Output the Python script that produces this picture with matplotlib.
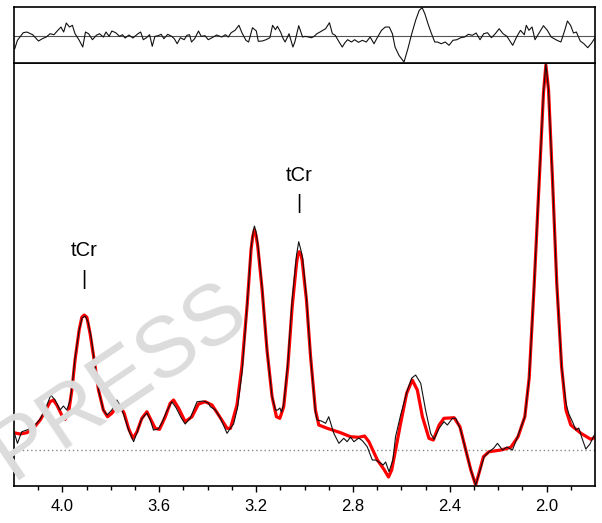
import numpy as np
import matplotlib
matplotlib.use('Agg')
import matplotlib.pyplot as plt

plt.rcParams['font.family'] = ['Liberation Sans', 'DejaVu Sans']

# ---- fitted spectrum (red) ----
fit_ppm = [4.200, 4.175, 4.147, 4.120, 4.092, 4.072, 4.051, 4.037, 4.021, 4.003,
           3.989, 3.975, 3.961, 3.948, 3.931, 3.920, 3.910, 3.899, 3.886, 3.869,
           3.851, 3.831, 3.814, 3.796, 3.775, 3.761, 3.745, 3.727, 3.709, 3.692,
           3.672, 3.651, 3.634, 3.617, 3.599, 3.575, 3.555, 3.541, 3.520, 3.493,
           3.465, 3.438, 3.410, 3.382, 3.355, 3.320, 3.306, 3.279, 3.258, 3.237,
           3.221, 3.214, 3.207, 3.200, 3.193, 3.175, 3.155, 3.134, 3.116, 3.102,
           3.086, 3.069, 3.051, 3.033, 3.028, 3.022, 3.016, 3.010, 2.992, 2.975,
           2.955, 2.941, 2.906, 2.851, 2.810, 2.776, 2.752, 2.734, 2.699, 2.672,
           2.653, 2.640, 2.624, 2.603, 2.578, 2.555, 2.534, 2.513, 2.486, 2.468,
           2.444, 2.424, 2.382, 2.358, 2.334, 2.313, 2.293, 2.278, 2.261, 2.238,
           2.189, 2.148, 2.118, 2.090, 2.072, 2.051, 2.031, 2.013, 2.003, 1.992,
           1.975, 1.958, 1.938, 1.920, 1.900, 1.858, 1.817, 1.796]
fit_amp = [16.8, 15.5, 16.8, 21.2, 29.5, 37.8, 47.8, 49.5, 43.5, 34.5,
           30.2, 36.2, 59.5, 89.5, 119.5, 132.2, 134.5, 132.2, 116.2, 89.5,
           59.5, 39.5, 32.8, 36.2, 42.8, 43.5, 36.2, 21.2, 11.2, 17.8,
           31.2, 37.8, 29.5, 21.2, 20.2, 32.8, 46.2, 49.5, 41.2, 27.8,
           32.8, 45.5, 47.8, 44.5, 34.5, 21.2, 21.2, 44.5, 84.5, 144.5,
           199.5, 213.0, 219.5, 214.0, 202.8, 159.5, 99.5, 52.8, 32.8, 31.2,
           42.8, 82.8, 142.8, 186.2, 194.0, 197.8, 196.0, 189.5, 149.5, 92.8,
           39.5, 24.5, 21.2, 16.8, 12.8, 12.2, 13.5, 7.8, -10.5, -19.8,
           -27.5, -20.5, -0.5, 26.2, 56.2, 69.5, 59.5, 32.8, 11.2, 9.5,
           24.5, 31.2, 31.8, 22.8, -0.5, -20.5, -35.5, -22.5, -7.2, -2.2,
           -0.5, 2.2, 12.8, 32.8, 71.5, 166.2, 266.2, 356.2, 384.5, 359.5,
           266.2, 166.2, 82.8, 39.5, 24.5, 16.2, 10.2, 12.8]

# ---- measured spectrum (black) ----
data_ppm = [4.200, 4.186, 4.168, 4.147, 4.120, 4.092, 4.072, 4.048, 4.030, 4.010,
            3.996, 3.982, 3.968, 3.960, 3.948, 3.931, 3.919, 3.906, 3.894, 3.881,
            3.869, 3.851, 3.831, 3.816, 3.796, 3.775, 3.761, 3.745, 3.727, 3.706,
            3.691, 3.675, 3.665, 3.651, 3.637, 3.624, 3.604, 3.588, 3.571, 3.548,
            3.530, 3.509, 3.493, 3.472, 3.444, 3.418, 3.397, 3.389, 3.368, 3.348,
            3.320, 3.306, 3.293, 3.277, 3.258, 3.237, 3.221, 3.211, 3.207, 3.201,
            3.193, 3.175, 3.155, 3.134, 3.120, 3.111, 3.102, 3.095, 3.086, 3.069,
            3.051, 3.033, 3.024, 3.015, 3.008, 2.992, 2.975, 2.955, 2.948, 2.930,
            2.913, 2.900, 2.879, 2.858, 2.838, 2.824, 2.810, 2.796, 2.776, 2.761,
            2.741, 2.720, 2.706, 2.686, 2.675, 2.665, 2.651, 2.635, 2.624, 2.603,
            2.575, 2.557, 2.541, 2.520, 2.500, 2.479, 2.465, 2.444, 2.424, 2.410,
            2.389, 2.375, 2.355, 2.334, 2.313, 2.293, 2.278, 2.258, 2.239, 2.218,
            2.203, 2.182, 2.164, 2.141, 2.120, 2.090, 2.072, 2.051, 2.031, 2.013,
            2.003, 1.992, 1.975, 1.958, 1.938, 1.920, 1.908, 1.893, 1.879, 1.867,
            1.854, 1.838, 1.821, 1.805, 1.796]
data_amp = [17.8, 6.2, 17.8, 19.5, 22.5, 30.5, 39.5, 54.5, 49.5, 39.5,
            43.5, 39.5, 49.5, 64.5, 91.5, 119.5, 131.5, 133.5, 127.5, 111.5,
            89.5, 59.5, 39.5, 34.5, 39.5, 49.5, 43.5, 33.5, 19.5, 7.8,
            17.5, 29.5, 32.8, 36.5, 29.5, 19.5, 20.5, 27.5, 37.5, 47.8,
            41.5, 31.5, 25.5, 31.5, 47.8, 48.5, 46.5, 42.8, 39.5, 31.5,
            16.2, 21.5, 25.5, 41.5, 77.5, 144.5, 201.5, 219.5, 223.5, 218.5,
            205.5, 161.5, 99.5, 52.8, 39.5, 39.5, 41.5, 37.5, 45.5, 86.5,
            149.5, 194.5, 207.8, 199.5, 191.5, 151.5, 92.8, 37.5, 29.5, 28.5,
            26.2, 32.8, 16.2, 6.2, 11.2, 7.8, 12.5, 7.8, 11.5, 8.8,
            2.8, -10.5, -10.5, -13.5, -15.5, -12.5, -22.2, -10.5, 12.8, 34.5,
            59.5, 71.5, 74.5, 66.2, 39.5, 16.2, 10.2, 21.2, 27.8, 24.5,
            31.2, 31.2, 19.5, -0.5, -20.5, -35.5, -23.5, -7.2, -2.5, 1.5,
            6.2, -0.5, 2.5, -0.5, 12.8, 32.8, 71.5, 166.2, 266.2, 356.5,
            385.5, 359.5, 266.2, 166.2, 82.8, 46.2, 35.5, 27.8, 19.5, 21.5,
            11.5, 0.5, 5.5, 13.5, 17.5]

# ---- residual (top panel) ----
res_ppm = [4.197, 4.186, 4.162, 4.147, 4.123, 4.099, 4.083, 4.067, 4.051, 4.035,
           4.019, 4.006, 3.995, 3.984, 3.971, 3.959, 3.948, 3.932, 3.916, 3.905,
           3.892, 3.876, 3.860, 3.847, 3.831, 3.820, 3.807, 3.796, 3.780, 3.764,
           3.752, 3.741, 3.725, 3.709, 3.688, 3.677, 3.666, 3.653, 3.640, 3.629,
           3.618, 3.605, 3.592, 3.581, 3.565, 3.549, 3.538, 3.526, 3.513, 3.497,
           3.486, 3.475, 3.467, 3.454, 3.438, 3.427, 3.411, 3.398, 3.382, 3.363,
           3.342, 3.327, 3.315, 3.303, 3.287, 3.271, 3.258, 3.242, 3.231, 3.215,
           3.199, 3.191, 3.175, 3.159, 3.143, 3.132, 3.120, 3.112, 3.099, 3.088,
           3.080, 3.064, 3.048, 3.040, 3.024, 3.008, 2.997, 2.984, 2.971, 2.960,
           2.949, 2.936, 2.913, 2.897, 2.885, 2.873, 2.857, 2.844, 2.833, 2.822,
           2.806, 2.793, 2.777, 2.761, 2.745, 2.729, 2.713, 2.698, 2.682, 2.666,
           2.650, 2.637, 2.626, 2.610, 2.589, 2.573, 2.557, 2.541, 2.526, 2.514,
           2.503, 2.490, 2.478, 2.462, 2.451, 2.435, 2.419, 2.403, 2.387, 2.371,
           2.355, 2.339, 2.323, 2.307, 2.291, 2.275, 2.260, 2.244, 2.228, 2.212,
           2.196, 2.180, 2.164, 2.140, 2.124, 2.108, 2.092, 2.084, 2.073, 2.060,
           2.048, 2.037, 2.013, 1.997, 1.981, 1.957, 1.941, 1.925, 1.914, 1.901,
           1.889, 1.877, 1.861, 1.846, 1.830, 1.814, 1.798]
res_amp = [-12.7, -4.3, 3.3, 4.0, 1.3, -5.0, -2.7, -1.0, 2.3, 1.3,
           5.7, 9.0, 4.0, 13.0, 9.0, 10.7, 2.3, -3.7, -11.0, 4.0,
           2.3, -3.7, 0.7, 2.3, -1.0, 4.0, -0.3, 5.0, 3.3, -0.3,
           1.3, -2.0, 1.0, -2.0, 2.3, 4.0, -3.7, -1.7, 1.3, -10.3,
           -0.3, 0.3, 1.7, -2.7, 1.7, -0.3, -2.7, -7.7, -1.7, -3.7,
           0.7, 1.3, -6.0, -2.7, 5.0, -0.3, 0.3, -3.7, -1.7, 1.0,
           -1.0, 1.3, -1.0, 3.3, 5.7, 10.7, 3.0, -4.3, -6.0, 8.3,
           5.0, -5.3, -5.0, -3.7, -1.7, 10.7, 6.3, 9.7, 4.0, -2.7,
           -6.0, 2.3, -11.0, -6.0, 10.3, -1.0, -0.3, -1.0, -1.7, -0.3,
           2.3, 4.0, 7.3, 13.3, 2.3, 0.7, -6.0, -11.0, -6.7, -3.7,
           -6.0, -3.7, -6.3, -4.3, -6.0, -1.0, -7.7, -1.0, 5.7, 9.0,
           9.0, 2.3, -11.0, -19.3, -26.0, -12.7, 2.3, 15.7, 25.7, 28.3,
           22.3, 12.3, 4.0, -6.0, -6.0, -7.7, -6.0, -9.3, -4.3, -3.7,
           -1.7, -1.0, 1.7, 0.7, 3.0, -3.7, 2.3, 3.3, -1.7, 2.3,
           7.3, 2.3, -0.3, -9.3, -1.0, 5.7, 1.3, 10.7, 5.7, 9.0,
           -3.7, 0.7, 10.3, 5.7, -1.0, -4.3, -6.0, 5.7, 15.0, 10.7,
           3.0, 4.0, -5.0, -7.7, -11.7, -7.0, -1.0]

xticks = [4.0, 3.6, 3.2, 2.8, 2.4, 2.0]
xtick_labels = ['4.0', '3.6', '3.2', '2.8', '2.4', '2.0']
minor_ticks = [4.1, 3.9, 3.8, 3.7, 3.5, 3.4, 3.3, 3.1, 3.0, 2.9,
               2.7, 2.6, 2.5, 2.3, 2.2, 2.1, 1.9]
peak_names = ['tCr', 'tCr']
peak_pos = [3.910, 3.023]
peak_text_y = [199.5, 274.5]
peak_bar_y = [170.5, 246.5]

fig = plt.figure(figsize=(6.02, 5.23), dpi=100)
ax = fig.add_axes([0.0233, 0.0707, 0.9651, 0.8088])
axr = fig.add_axes([0.0233, 0.8795, 0.9651, 0.1071])

# watermark
fig.text(0.198, 0.27, 'PRESS', fontsize=61, color='#dcdcdc', rotation=34,
         ha='center', va='center', zorder=0)

# main spectrum
ax.axhline(0, color='#888888', lw=1.0, ls=(0, (1, 2)), zorder=1)
ax.plot(fit_ppm, fit_amp, color='#ff0000', lw=2.3, zorder=2,
        solid_joinstyle='round', solid_capstyle='round')
ax.plot(data_ppm, data_amp, color='#111111', lw=0.8, zorder=3)
for name, xp, ty, by in zip(peak_names, peak_pos, peak_text_y, peak_bar_y):
    ax.text(xp, ty, name, fontsize=14.5, ha='center', va='center')
    ax.text(xp, by, '|', fontsize=14.5, ha='center', va='center')

ax.set_xlim(4.2, 1.8)
ax.set_ylim(-36.5, 386.5)
ax.set_xticks(xticks)
ax.set_xticklabels(xtick_labels)
ax.set_xticks(minor_ticks, minor=True)
ax.set_yticks([])
ax.tick_params(axis='x', which='major', direction='out', length=4, width=1,
               labelsize=12, pad=5)
ax.tick_params(axis='x', which='minor', direction='out', length=3, width=1)
for s in ax.spines.values():
    s.set_linewidth(1.2)
ax.patch.set_alpha(0)

# residual panel
axr.axhline(0, color='#555555', lw=0.8)
axr.plot(res_ppm, res_amp, color='#111111', lw=0.8)
axr.set_xlim(4.2, 1.8)
axr.set_ylim(-27, 29)
axr.set_xticks([])
axr.set_yticks([])
for s in axr.spines.values():
    s.set_linewidth(1.2)

fig.savefig('out.png', dpi=100)
